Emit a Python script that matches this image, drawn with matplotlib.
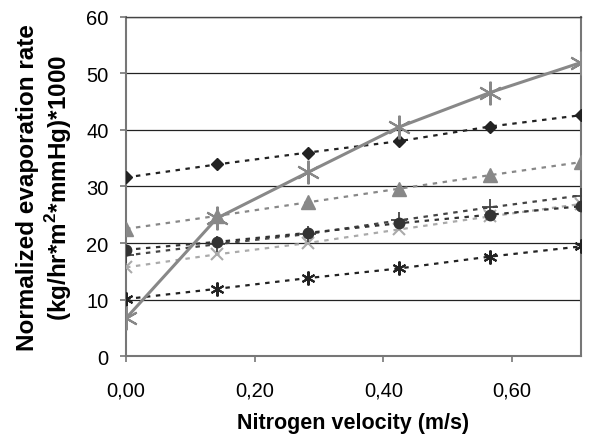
import matplotlib
matplotlib.use("Agg")
import matplotlib.pyplot as plt

plt.rcParams['font.family'] = ['Liberation Sans', 'DejaVu Sans']
plt.rcParams['mathtext.fontset'] = 'custom'
plt.rcParams['mathtext.bf'] = 'Liberation Sans:bold'
plt.rcParams['mathtext.rm'] = 'Liberation Sans'

# velocities (m/s)
velocity = [0.0, 0.1414, 0.2828, 0.4243, 0.5657, 0.7071]

# evaporation rate series
s_diamond = [31.6, 33.9, 36.0, 38.0, 40.6, 42.6]
s_big = [6.7, 24.4, 32.5, 40.5, 46.6, 51.9]
s_triangle = [22.5, 24.8, 27.2, 29.6, 32.0, 34.3]
s_circle = [18.8, 20.2, 21.8, 23.5, 25.0, 26.5]
s_plus = [17.8, 19.8, 21.6, 24.0, 26.3, 28.4]
s_xsmall = [15.7, 18.0, 20.0, 22.4, 24.7, 26.9]
s_star = [10.1, 11.9, 13.8, 15.5, 17.6, 19.4]

xticks = [0.0, 0.2, 0.4, 0.6]
xtick_labels = ["0,00", "0,20", "0,40", "0,60"]
yticks = [0, 10, 20, 30, 40, 50, 60]

fig = plt.figure(figsize=(5.89, 4.35), dpi=100)
ax = fig.add_axes([0.214, 0.179, 0.772, 0.780])

dots = (0, (2, 2.5))
ax.plot(velocity, s_star, color='#222222', ls=dots, lw=1.6,
        marker=(6, 2, 0), ms=10, mew=1.5, zorder=3)
ax.plot(velocity, s_xsmall, color='#aaaaaa', ls=dots, lw=1.6,
        marker='x', ms=8, mew=1.5, zorder=3)
ax.plot(velocity, s_plus, color='#444444', ls=dots, lw=1.6,
        marker='+', ms=11, mew=1.3, zorder=3)
ax.plot(velocity, s_circle, color='#333333', ls=dots, lw=1.6,
        marker='o', ms=7.5, zorder=3)
ax.plot(velocity, s_triangle, color='#888888', ls=dots, lw=1.6,
        marker='^', ms=9.5, zorder=3)
ax.plot(velocity, s_diamond, color='#222222', ls=dots, lw=1.6,
        marker='D', ms=6.5, zorder=3)
ax.plot(velocity, s_big, color='#888888', ls='-', lw=2.2,
        marker=(6, 2, 0), ms=17, mew=1.5, zorder=4)

ax.set_xlim(0, 0.7071)
ax.set_ylim(0, 60)
ax.set_xticks(xticks)
ax.set_xticklabels(xtick_labels)
ax.set_yticks(yticks)
ax.yaxis.grid(True, color='#222222', lw=0.9)
ax.set_axisbelow(True)

for side in ['left', 'bottom', 'right', 'top']:
    ax.spines[side].set_color('#777777')
    ax.spines[side].set_linewidth(1.5)
ax.spines['top'].set_color('#444444')
ax.spines['top'].set_linewidth(1.0)

ax.tick_params(axis='both', labelsize=14.5, length=4.5, width=1.2,
               color='#777777')
ax.tick_params(axis='y', pad=8)
ax.tick_params(axis='x', pad=13)

ax.set_xlabel("Nitrogen velocity (m/s)", fontsize=15.5, fontweight='bold',
              labelpad=9)
ax.set_ylabel("Normalized evaporation rate\n(kg/hr*m$^{\\mathbf{2}}$*mmHg)*1000",
              fontsize=17.5, fontweight='bold', labelpad=9, linespacing=1.15)

fig.savefig("out.png", dpi=100)
